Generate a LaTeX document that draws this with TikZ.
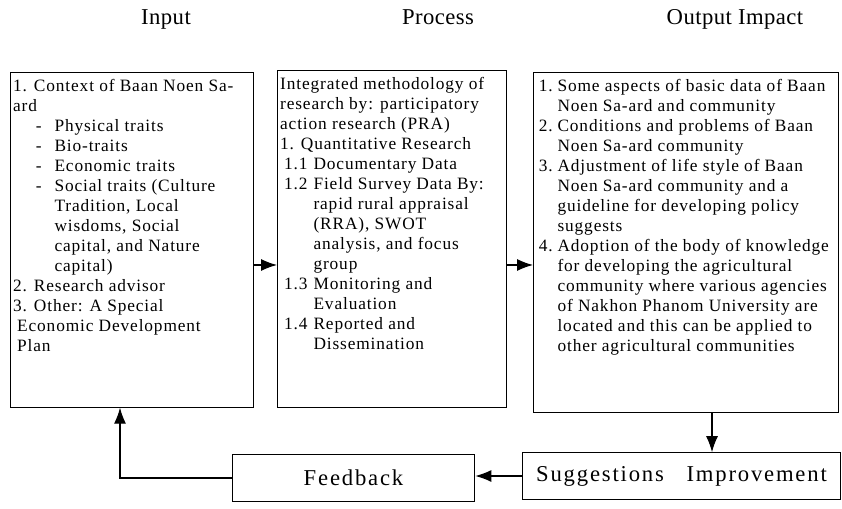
\documentclass[tikz,border=0pt]{standalone}
\usepackage{fontspec}
\setmainfont{Liberation Serif}
\usetikzlibrary{arrows.meta}

\newcommand{\boxbody}[3]{\parbox[c][#2][t]{#1}{\raggedright #3}}

\tikzset{
  stage/.style={draw, anchor=north west, inner xsep=2pt, inner ysep=5pt,
    font=\fontsize{13}{15}\selectfont\addfontfeature{LetterSpace=5}},
  heading/.style={anchor=base, font=\fontsize{17}{20}\selectfont\addfontfeature{LetterSpace=2}},
  loopbox/.style={draw, minimum height=35pt,
    font=\fontsize{17}{20}\selectfont\addfontfeature{LetterSpace=8}}
}

\begin{document}
\begin{tikzpicture}[>={Latex[length=12pt,width=9pt]}, x=0.75pt, y=-0.75pt, line width=0.8pt]
  \useasboundingbox (0,0) rectangle (842,509);
  %\draw[help lines] (0,0) grid[step=50] (842,509);
  \node[heading] (hin) at (166,25) {Input};
  \node[heading] (hpro) at (438,25) {Process};
  \node[heading] (hout) at (735,25) {Output Impact};

  \node[stage] (input) at (10,72) {\boxbody{178pt}{241pt}{%
    1. Context of Baan Noen Sa-\\
    ard\\
    \hspace*{17pt}\makebox[14pt][l]{-}Physical traits\\
    \hspace*{17pt}\makebox[14pt][l]{-}Bio-traits\\
    \hspace*{17pt}\makebox[14pt][l]{-}Economic traits\\
    \hspace*{17pt}\makebox[14pt][l]{-}Social traits (Culture\\
    \hspace*{31pt}Tradition, Local\\
    \hspace*{31pt}wisdoms, Social\\
    \hspace*{31pt}capital, and Nature\\
    \hspace*{31pt}capital)\\
    2. Research advisor\\
    3. Other: A Special\\
    \hspace*{3pt}Economic Development\\
    \hspace*{3pt}Plan}};

  \node[stage] (process) at (277,70) {\boxbody{168pt}{243pt}{%
    Integrated methodology of\\
    research by: participatory\\
    action research (PRA)\\
    1. Quantitative Research\\
    \hspace*{3pt}\makebox[22pt][l]{1.1}Documentary Data\\
    \hspace*{3pt}\makebox[22pt][l]{1.2}Field Survey Data By:\\
    \hspace*{25pt}rapid rural appraisal\\
    \hspace*{25pt}(RRA), SWOT\\
    \hspace*{25pt}analysis, and focus\\
    \hspace*{25pt}group\\
    \hspace*{3pt}\makebox[22pt][l]{1.3}Monitoring and\\
    \hspace*{25pt}Evaluation\\
    \hspace*{3pt}\makebox[22pt][l]{1.4}Reported and\\
    \hspace*{25pt}Dissemination}};

  \node[stage] (output) at (533,72) {\boxbody{225pt}{245pt}{%
    \hspace*{2pt}\makebox[14pt][l]{1.}Some aspects of basic data of Baan\\
    \hspace*{16pt}Noen Sa-ard and community\\
    \hspace*{2pt}\makebox[14pt][l]{2.}Conditions and problems of Baan\\
    \hspace*{16pt}Noen Sa-ard community\\
    \hspace*{2pt}\makebox[14pt][l]{3.}Adjustment of life style of Baan\\
    \hspace*{16pt}Noen Sa-ard community and a\\
    \hspace*{16pt}guideline for developing policy\\
    \hspace*{16pt}suggests\\
    \hspace*{2pt}\makebox[14pt][l]{4.}Adoption of the body of knowledge\\
    \hspace*{16pt}for developing the agricultural\\
    \hspace*{16pt}community where various agencies\\
    \hspace*{16pt}of Nakhon Phanom University are\\
    \hspace*{16pt}located and this can be applied to\\
    \hspace*{16pt}other agricultural communities}};

  \node[loopbox, minimum width=182pt] (feedback) at (353.5,478) {Feedback};
  \node[loopbox, minimum width=239pt] (suggest) at (681.5,476) {Suggestions\quad Improvement};

  \coordinate (row) at (0,265);
  \coordinate (down) at (712,0);
  \coordinate (up) at (120,0);
  \draw[->] (input.east |- row) -- (process.west |- row);
  \draw[->] (process.east |- row) -- (output.west |- row);
  \draw[->] (output.south -| down) -- (suggest.north -| down);
  \draw[->] (suggest.west) -- (suggest.west -| feedback.east);
  \draw[->] (feedback.west) -| (input.south -| up);
\end{tikzpicture}
\end{document}
